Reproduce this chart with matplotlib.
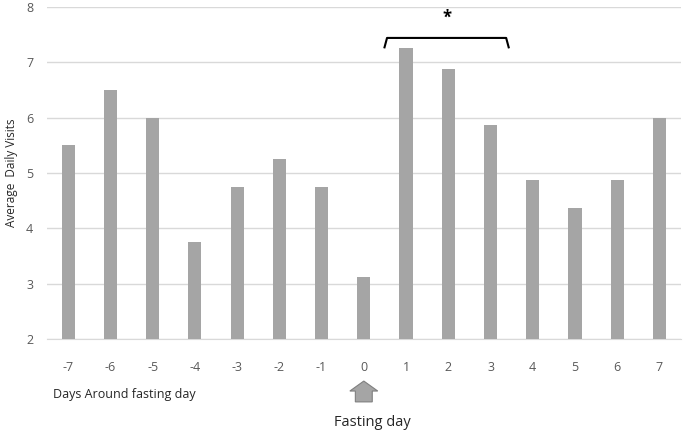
import numpy as np
import matplotlib.pyplot as plt
from matplotlib.patches import Polygon
from matplotlib import transforms

days = ['-7', '-6', '-5', '-4', '-3', '-2', '-1', '0', '1', '2', '3', '4', '5', '6', '7']
visits = [5.5, 6.5, 6.0, 3.75, 4.75, 5.25, 4.75, 3.12, 7.25, 6.87, 5.87, 4.87, 4.37, 4.87, 6.0]

plt.rcParams['font.family'] = ['Open Sans', 'DejaVu Sans']

fig = plt.figure(figsize=(6.85, 4.34), dpi=100)
ax = fig.add_axes([0.0686, 0.219, 0.925, 0.765])

x = np.arange(len(days))
ax.bar(x, visits, width=0.31, color='#a5a5a5', zorder=3)

ax.set_xlim(-0.5, len(days) - 0.5)
ax.set_ylim(2, 8)
ax.set_yticks(range(2, 9))
ax.set_xticks(x)
ax.set_xticklabels(days)
ax.tick_params(length=0, labelsize=9, labelcolor='#595959')
ax.tick_params(axis='x', pad=16)
ax.tick_params(axis='y', pad=10)
ax.grid(axis='y', color='#d9d9d9', linewidth=1, zorder=0)
for s in ['top', 'right', 'left']:
    ax.spines[s].set_visible(False)
ax.spines['bottom'].set_color('#d9d9d9')
ax.set_ylabel('Average  Daily Visits', fontsize=8.5, color='#262626', labelpad=6)

fig.text(0.077, 0.092, 'Days Around fasting day', fontsize=9, color='#262626', va='center')

# arrow under day 0
i0 = days.index('0')
tr = transforms.blended_transform_factory(ax.transData, fig.transFigure)
pts = [(i0 - 0.2, 0.074), (i0 + 0.2, 0.074), (i0 + 0.2, 0.099),
       (i0 + 0.33, 0.099), (i0, 0.122), (i0 - 0.33, 0.099), (i0 - 0.2, 0.099)]
fig.patches.append(Polygon(pts, closed=True, transform=tr, facecolor='#a5a5a5',
                           edgecolor='#7f7f7f', linewidth=0.8))
fig.text(0.543, 0.027, 'Fasting day', fontsize=10.5, color='#262626', ha='center', va='center')

# significance bracket over days 1-3
i1 = days.index('1')
i3 = days.index('3')
bx0, bx1 = i1 - 0.51, i3 + 0.43
ax.plot([bx0, bx0 + 0.06, bx1 - 0.06, bx1], [7.27, 7.44, 7.44, 7.27],
        color='black', linewidth=1.5, clip_on=False, zorder=4)
ax.text((bx0 + bx1) / 2, 7.8, '*', ha='center', va='center', fontsize=12, fontweight='bold')

fig.savefig('out.png', dpi=100)
